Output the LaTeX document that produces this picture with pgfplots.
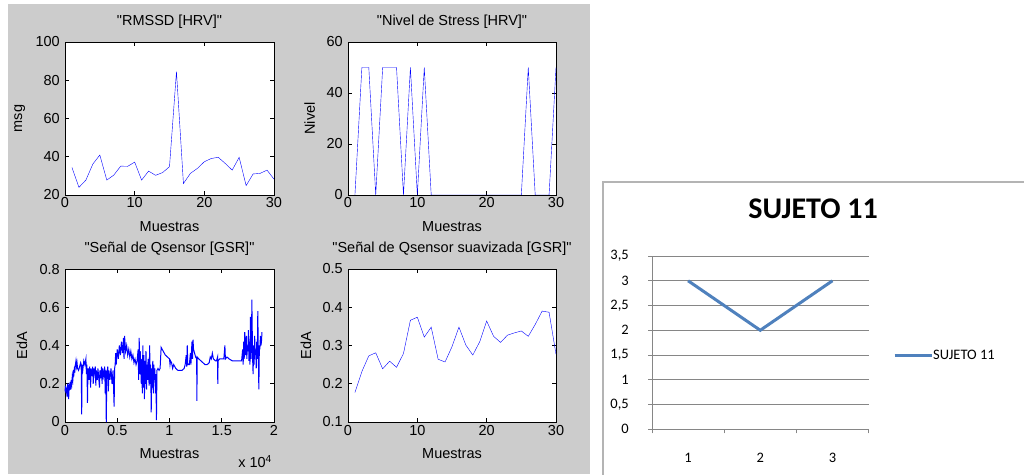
\documentclass[border=0pt]{standalone}
\usepackage{pgfplots}
\pgfplotsset{compat=1.18}
\usepackage{fontspec}
\setmainfont{Liberation Sans}[Ligatures=TeXOff]
\newfontfamily\calibri{Carlito}
\definecolor{matbg}{RGB}{204,204,204}
\definecolor{matblue}{RGB}{0,0,255}
\definecolor{xlblue}{RGB}{79,129,189}
\definecolor{xlgrid}{RGB}{134,134,134}
\definecolor{xlframe}{RGB}{180,180,180}

\pgfplotsset{
 matstyle/.style={
  scale only axis,
  anchor=south west,
  axis background/.style={fill=white},
  axis line style={black, line width=0.7pt},
  every tick/.style={black, line width=0.7pt},
  major tick length=4pt,
  tick align=inside,
  font=\fontsize{14.5}{17}\selectfont,
  /pgf/number format/assume math mode=true,
  xticklabel style={anchor=base, yshift=-13pt, inner sep=0pt},
  yticklabel style={anchor=east, inner sep=0pt, xshift=-5pt},
  xlabel style={at={(axis description cs:0.5,-0.2418)}, anchor=base, inner sep=0pt},
  title style={at={(axis description cs:0.5,1.0686)}, anchor=base, inner sep=0pt},
  xlabel={Muestras},
  no markers,
  cycle list={{matblue, line width=1.2pt, mark=none}},
 }
}

\begin{document}
\begin{tikzpicture}[x=1pt,y=1pt]
\useasboundingbox (0pt,0pt) rectangle (1024pt,474pt);
\fill[white] (0pt,0pt) rectangle (1024pt,474pt);
\fill[matbg] (8pt,0pt) rectangle (590pt,470pt);
\draw[xlframe, line width=2pt] (603pt,-2pt) -- (603pt,292pt) -- (1026pt,292pt);

% RMSSD
\begin{axis}[matstyle, at={(65pt,279pt)}, width=209pt, height=153pt,
  xmin=0, xmax=30, ymin=20, ymax=100, xtick={0,10,20,30}, ytick={20,40,...,100},
  title={"RMSSD [HRV]"}, ylabel={msg},
  ylabel style={at={(axis description cs:-0.2057,0.5)}, anchor=base, inner sep=0pt}]
\addplot coordinates {(1,34.4)(2,24)(3,27.8)(4,36.2)(5,40.9)(6,27.8)(7,30.4)(8,35.1)(9,35)(10,37.2)
(11,27.8)(12,32.5)(13,30.3)(14,31.7)(15,34.8)(16,84.5)(17,26)(18,31.3)(19,33.9)(20,37.4)
(21,39.1)(22,39.7)(23,36.5)(24,33)(25,39.7)(26,24.9)(27,31)(28,31.3)(29,33)(30,28.3)};
\end{axis}

% Nivel de Stress
\begin{axis}[matstyle, at={(348pt,279pt)}, width=208pt, height=153pt,
  xmin=0, xmax=30, ymin=0, ymax=60, xtick={0,10,20,30}, ytick={0,20,40,60},
  title={"Nivel de Stress [HRV]"}, ylabel={Nivel},
  ylabel style={at={(axis description cs:-0.1587,0.5)}, anchor=base, inner sep=0pt}]
\addplot coordinates {(1,0)(2,50)(3,50)(4,0)(5,50)(6,50)(7,50)(8,0)(9,50)(10,0)
(11,50)(12,0)(13,0)(14,0)(15,0)(16,0)(17,0)(18,0)(19,0)(20,0)
(21,0)(22,0)(23,0)(24,0)(25,0)(26,50)(27,0)(28,0)(29,0)(30,50)};
\end{axis}

% GSR raw
\begin{axis}[matstyle, at={(65pt,52pt)}, width=209pt, height=153pt, clip=false,
  xmin=0, xmax=20000, ymin=0, ymax=0.8, xtick={0,5000,10000,15000,20000},
  xticklabels={0,0.5,1,1.5,2}, scaled x ticks=false, ytick={0,0.2,0.4,0.6,0.8},
  yticklabels={0,0.2,0.4,0.6,0.8},
  title={"Señal de Qsensor [GSR]"}, ylabel={EdA},
  ylabel style={at={(axis description cs:-0.1818,0.5)}, anchor=base, inner sep=0pt}]
\addplot+[line width=1pt] coordinates {
(0,0.16)(50,0.19)(100,0.15)(150,0.18)(200,0.13)(250,0.2)(300,0.17)(350,0.12)(400,0.19)(450,0.18)
(500,0.21)(550,0.17)(600,0.22)(650,0.2)(700,0.24)(750,0.22)(800,0.26)(850,0.25)(900,0.28)(950,0.27)
(1000,0.3)(1050,0.32)(1100,0.29)(1150,0.31)(1200,0.28)(1300,0.27)(1400,0.29)(1500,0.31)(1550,0.3)(1600,0.04)
(1620,0.3)(1700,0.27)(1800,0.32)(1900,0.3)(2000,0.33)(2050,0.25)(2100,0.3)(2150,0.1)(2200,0.28)(2300,0.22)
(2350,0.29)(2400,0.26)(2450,0.18)(2500,0.28)(2600,0.24)(2650,0.29)(2700,0.2)(2750,0.28)(2800,0.25)(2900,0.29)
(2950,0.19)(3000,0.27)(3100,0.22)(3150,0.28)(3200,0.25)(3300,0.18)(3350,0.27)(3400,0.23)(3500,0.29)(3550,0.2)
(3600,0.28)(3700,0.24)(3800,0.29)(3850,0.15)(3900,0.27)(3950,0.0)(4000,0.25)(4100,0.29)(4150,0.16)(4200,0.27)
(4300,0.22)(4400,0.28)(4500,0.2)(4600,0.27)(4700,0.08)(4750,0.28)(4800,0.3)(4850,0.36)(4900,0.3)(5000,0.38)
(5100,0.33)(5200,0.4)(5300,0.35)(5400,0.42)(5500,0.36)(5600,0.44)(5650,0.33)(5700,0.45)(5800,0.37)(5900,0.4)
(6000,0.35)(6100,0.38)(6200,0.34)(6300,0.37)(6400,0.33)(6500,0.35)(6600,0.31)(6700,0.33)(6800,0.3)(6900,0.32)
(7000,0.38)(7050,0.22)(7100,0.44)(7150,0.25)(7200,0.37)(7300,0.2)(7350,0.33)(7400,0.15)(7450,0.4)(7500,0.18)
(7550,0.35)(7600,0.12)(7650,0.32)(7700,0.2)(7750,0.37)(7800,0.17)(7850,0.3)(7900,0.22)(7950,0.33)(8000,0.26)
(8050,0.19)(8100,0.4)(8150,0.2)(8200,0.3)(8250,0.05)(8300,0.28)(8350,0.18)(8400,0.32)(8450,0.15)(8500,0.3)
(8550,0.22)(8600,0.28)(8650,0.15)(8700,0.25)(8750,0.01)(8800,0.27)(8900,0.28)(9000,0.27)(9100,0.28)(9200,0.39)
(9300,0.38)(9400,0.37)(9500,0.36)(9600,0.35)(9700,0.345)(9800,0.34)(9900,0.335)(10000,0.33)(10050,0.3)(10100,0.32)
(10200,0.31)(10300,0.28)(10400,0.3)(10500,0.29)(10600,0.28)(10800,0.27)(11000,0.27)(11200,0.27)(11400,0.28)(11500,0.3)
(11600,0.35)(11650,0.29)(11700,0.4)(11750,0.3)(11900,0.3)(12000,0.36)(12050,0.3)(12150,0.42)(12200,0.33)(12250,0.43)
(12300,0.38)(12400,0.36)(12500,0.34)(12600,0.33)(12620,0.11)(12650,0.34)(12800,0.33)(13000,0.32)(13200,0.31)(13400,0.3)
(13600,0.3)(13800,0.31)(13900,0.34)(14000,0.33)(14100,0.36)(14200,0.33)(14400,0.32)(14500,0.32)(14600,0.34)(14620,0.2)
(14650,0.32)(14800,0.33)(15000,0.33)(15200,0.33)(15300,0.4)(15350,0.33)(15500,0.34)(15700,0.33)(16000,0.32)(16300,0.32)
(16600,0.32)(16900,0.32)(17000,0.38)(17050,0.3)(17100,0.42)(17150,0.33)(17200,0.47)(17250,0.35)(17300,0.38)(17350,0.45)
(17400,0.33)(17450,0.4)(17500,0.37)(17550,0.48)(17600,0.32)(17650,0.42)(17700,0.3)(17750,0.55)(17800,0.33)(17850,0.4)
(17880,0.64)(17950,0.34)(18000,0.25)(18050,0.4)(18100,0.3)(18150,0.45)(18200,0.35)(18250,0.38)(18300,0.28)(18350,0.42)
(18400,0.33)(18450,0.58)(18500,0.35)(18550,0.17)(18600,0.4)(18650,0.38)(18700,0.45)(18750,0.4)(18800,0.42)(18850,0.47)
};
\node[anchor=base west, inner sep=0pt] at (axis description cs:0.828,-0.296) {x 10\textsuperscript{4}};
\end{axis}

% GSR smoothed
\begin{axis}[matstyle, at={(348pt,52pt)}, width=208pt, height=153pt,
  xmin=0, xmax=30, ymin=0.1, ymax=0.5, xtick={0,10,20,30}, ytick={0.1,0.2,0.3,0.4,0.5},
  yticklabels={0.1,0.2,0.3,0.4,0.5},
  title={"Señal de Qsensor suavizada [GSR]"}, ylabel={EdA},
  ylabel style={at={(axis description cs:-0.1779,0.5)}, anchor=base, inner sep=0pt}]
\addplot coordinates {(1,0.177)(2,0.232)(3,0.273)(4,0.281)(5,0.239)(6,0.259)(7,0.243)(8,0.279)(9,0.366)(10,0.374)
(11,0.322)(12,0.348)(13,0.264)(14,0.257)(15,0.297)(16,0.348)(17,0.301)(18,0.275)(19,0.31)(20,0.364)
(21,0.324)(22,0.308)(23,0.327)(24,0.333)(25,0.338)(26,0.324)(27,0.355)(28,0.39)(29,0.387)(30,0.277)};
\end{axis}

% Excel chart
\begin{axis}[scale only axis, anchor=south west, at={(652pt,44.7pt)}, width=216.5pt, height=173.3pt,
  xmin=0.5, xmax=3.5, ymin=0, ymax=3.5,
  ytick={0,0.5,...,3.5}, yticklabels={0,{0,5},1,{1,5},2,{2,5},3,{3,5}},
  xtick={0.5,1.5,2.5,3.5}, xticklabels={},
  extra x ticks={1,2,3}, extra x tick labels={1,2,3},
  extra x tick style={tick style={draw=none}},
  tick align=outside, major tick length=4pt,
  axis x line*=bottom, axis y line*=left,
  axis line style={xlgrid, line width=1pt},
  every tick/.style={xlgrid, line width=1pt},
  ymajorgrids, grid style={xlgrid, line width=1pt},
  font=\calibri\fontsize{14.5}{17}\selectfont,
  xticklabel style={anchor=base, yshift=-28.7pt, inner sep=0pt},
  yticklabel style={anchor=east, inner sep=0pt, xshift=-19pt},
  title={\calibri\bfseries\fontsize{30}{34}\selectfont SUJETO 11},
  title style={at={(axis description cs:0.7437,1.179)}, anchor=base, inner sep=0pt},
  legend style={at={(axis description cs:1.113,0.423)}, anchor=west, draw=none, fill=none,
    inner sep=0pt, nodes={inner sep=0pt}, font=\calibri\fontsize{14.5}{17}\selectfont},
  legend image code/.code={\draw[xlblue, line width=3pt] (0pt,0pt) -- (37pt,0pt);},
  ]
\addplot[xlblue, line width=3pt, mark=none] coordinates {(1,3)(2,2)(3,3)};
\addlegendentry{SUJETO 11}
\end{axis}
\end{tikzpicture}
\end{document}
